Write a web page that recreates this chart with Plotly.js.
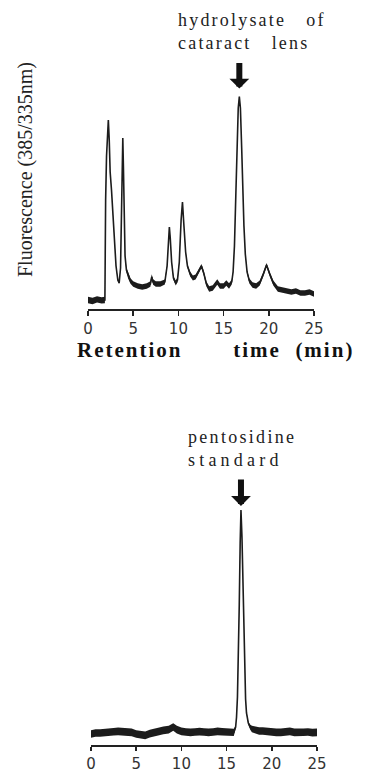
<!DOCTYPE html>
<html>
<head>
<meta charset="utf-8">
<script src="https://cdn.plot.ly/plotly-3.0.1.min.js"></script>
<style>
html,body{margin:0;padding:0;background:#fff;}
#chart{width:365px;height:773px;}
</style>
</head>
<body>
<div id="chart"></div>
<script>
// ---- Top: hydrolysate of cataract lens (retention time in min, fluorescence in arbitrary units) ----
var topTime = [0, 0.5, 1.0, 1.5, 1.87, 1.9, 1.95, 2.05, 2.15, 2.25, 2.35, 2.45, 2.6, 2.75, 2.9, 3.1, 3.3, 3.45, 3.6, 3.7, 3.78, 3.85, 3.92, 4.0, 4.1, 4.25, 4.45, 4.7, 5.0, 5.5, 6.0, 6.5, 6.9, 7.05, 7.2, 7.5, 8.0, 8.5, 8.75, 8.9, 9.0, 9.1, 9.25, 9.45, 9.7, 9.9, 10.1, 10.3, 10.45, 10.6, 10.8, 11.0, 11.3, 11.6, 11.9, 12.2, 12.55, 12.8, 13.1, 13.4, 13.8, 14.3, 14.6, 15.0, 15.3, 15.6, 15.9, 16.05, 16.2, 16.35, 16.5, 16.62, 16.74, 16.86, 17.0, 17.1, 17.25, 17.4, 17.6, 17.85, 18.2, 18.6, 19.0, 19.4, 19.75, 20.1, 20.5, 21.0, 21.5, 22.0, 22.5, 23.0, 23.5, 24.0, 24.5, 25.0];
var topSignal = [0, -0.5, 0.3, -0.2, 0, 25, 50, 72, 85, 90, 80, 64, 55, 44, 30, 17, 10, 8.5, 16, 38, 66, 81, 66, 40, 22, 15, 12, 9.5, 8, 7, 6.5, 7, 8, 11.5, 9, 8, 8, 9, 17, 29, 36.5, 31, 19, 11, 8.5, 10, 19, 40, 49, 38, 24, 17, 13, 11, 11.5, 14, 17, 13.5, 8, 5.5, 6, 9, 7, 7, 8.5, 7, 9, 14, 27, 52, 80, 96, 101.7, 96, 76, 58, 37, 23, 14, 9.5, 7.5, 7, 8.5, 13, 17.5, 13, 8.5, 5.5, 5, 4.5, 4, 4.5, 3.5, 3.5, 4, 3];
var topNoise = [1.6, 1.6, 1.6, 1.6, 1.6, 0.3, 0.3, 0.3, 0.3, 0.3, 0.3, 0.3, 0.3, 0.3, 0.3, 0.4, 0.6, 0.6, 0.3, 0.3, 0.3, 0.3, 0.3, 0.3, 0.5, 1.2, 1.4, 1.4, 1.4, 1.4, 1.4, 1.4, 1.4, 1.4, 1.4, 1.4, 1.4, 1.2, 0.6, 0.3, 0.3, 0.3, 0.5, 1.0, 1.3, 1.2, 0.5, 0.3, 0.3, 0.3, 0.5, 0.9, 1.2, 1.3, 1.3, 1.1, 1.0, 1.1, 1.3, 1.4, 1.4, 1.4, 1.4, 1.4, 1.4, 1.4, 1.2, 0.6, 0.3, 0.3, 0.3, 0.3, 0.3, 0.3, 0.3, 0.3, 0.3, 0.4, 0.8, 1.2, 1.4, 1.4, 1.3, 1.1, 1.0, 1.1, 1.3, 1.4, 1.4, 1.4, 1.4, 1.4, 1.4, 1.4, 1.4, 1.4];

// ---- Bottom: pentosidine standard ----
var botTime = [0, 0.5, 1, 1.5, 2, 2.5, 3, 3.5, 4, 4.5, 5, 5.5, 6, 6.5, 7, 7.5, 8, 8.6, 9.1, 9.5, 10, 10.5, 11, 11.5, 12, 12.5, 13, 13.5, 14, 14.5, 15, 15.5, 15.8, 16.0, 16.1, 16.2, 16.3, 16.4, 16.5, 16.59, 16.7, 16.8, 16.9, 17.0, 17.1, 17.2, 17.4, 17.6, 17.8, 18.2, 18.6, 19, 19.5, 20, 20.5, 21, 21.5, 22, 22.5, 23, 23.5, 24, 24.5, 25];
var botSignal = [-0.5, 0, 0, 0.3, 0.3, 0.6, 0.8, 0.7, 0.5, 0.3, -0.5, -0.8, -1.2, -0.3, 0.3, 0.8, 1.3, 1.7, 3, 1.7, 0.8, 0.5, 0.3, 0.5, 0.7, 0.5, 0.3, 0.5, 0.8, 0.6, 0.5, 0.4, 0.3, 3, 8, 18, 38, 64, 95, 111.5, 98, 74, 48, 28, 17, 10, 5, 3, 2, 1.5, 1, 1, 0.7, 0.5, 0.3, 0.3, 0.5, 0.8, 0.3, 0.2, 0.4, 0.5, 0.2, 0.3];
var botNoise = [1.9, 1.9, 1.9, 1.9, 1.9, 1.9, 1.9, 1.9, 1.9, 1.9, 1.9, 1.9, 1.9, 1.9, 1.9, 1.9, 1.9, 1.9, 1.9, 1.9, 1.9, 1.9, 1.9, 1.9, 1.9, 1.9, 1.9, 1.9, 1.9, 1.9, 1.9, 1.9, 1.8, 0.8, 0.3, 0.3, 0.3, 0.3, 0.3, 0.3, 0.3, 0.3, 0.3, 0.3, 0.3, 0.4, 0.8, 1.3, 1.6, 1.8, 1.9, 1.9, 1.9, 1.9, 1.9, 1.9, 1.9, 1.9, 1.9, 1.9, 1.9, 1.9, 1.9, 1.9];

var xTickVals = [0, 5, 10, 15, 20, 25];
var xTickText = ['0', '5', '10', '15', '20', '25'];

var INK = '#1c1c1c';

function band(xs, ys, ns, xa, ya) {
  var lower = ys.map(function (v, i) { return v - ns[i]; });
  var upper = ys.map(function (v, i) { return v + ns[i]; });
  return [
    {x: xs, y: lower, xaxis: xa, yaxis: ya, mode: 'lines', line: {width: 0, color: INK}, hoverinfo: 'skip', showlegend: false},
    {x: xs, y: upper, xaxis: xa, yaxis: ya, mode: 'lines', line: {width: 0, color: INK}, fill: 'tonexty', fillcolor: INK, hoverinfo: 'skip', showlegend: false},
    {x: xs, y: ys, xaxis: xa, yaxis: ya, mode: 'lines', line: {width: 1.6, color: INK}, showlegend: false}
  ];
}

var data = band(topTime, topSignal, topNoise, 'x', 'y').concat(band(botTime, botSignal, botNoise, 'x2', 'y2'));

var W = 365, H = 773;
function px(v) { return v / W; }
function py(v) { return 1 - v / H; }

var tickFont = {family: 'DejaVu Sans', size: 15, color: '#333'};
var xaxisBase = {
  range: [0, 25], showgrid: false, zeroline: false, showline: true, linecolor: '#222', linewidth: 1.5,
  ticks: 'outside', ticklen: 5, tickwidth: 1.5, tickcolor: '#222',
  tickmode: 'array', tickvals: xTickVals, ticktext: xTickText, tickfont: tickFont, fixedrange: true
};
var yaxisBase = {visible: false, showgrid: false, zeroline: false, fixedrange: true};

var serif = 'Liberation Serif';
var layout = {
  width: W, height: H,
  margin: {l: 0, r: 0, t: 0, b: 0},
  paper_bgcolor: '#fff', plot_bgcolor: '#fff',
  showlegend: false,
  xaxis: Object.assign({}, xaxisBase, {domain: [px(88), px(314)], anchor: 'y'}),
  yaxis: Object.assign({}, yaxisBase, {domain: [py(309), py(90)], range: [-4.5, 105], anchor: 'x'}),
  xaxis2: Object.assign({}, xaxisBase, {domain: [px(91), px(317)], anchor: 'y2', ticklen: 4}),
  yaxis2: Object.assign({}, yaxisBase, {domain: [py(745), py(500)], range: [-6, 116.5], anchor: 'x2'}),
  annotations: [
    {xref: 'paper', yref: 'paper', x: px(176), y: py(8), xanchor: 'left', yanchor: 'top', align: 'left', showarrow: false,
     text: '<span style="letter-spacing:2.2px">hydrolysate&nbsp;&nbsp;&nbsp;of</span><br><span style="letter-spacing:2.2px">cataract&nbsp;&nbsp;&nbsp;lens</span>',
     font: {family: serif, size: 18, color: '#222'}},
    {xref: 'x', yref: 'y', x: 16.74, y: 101.7, text: '', showarrow: true, ax: 0, ay: -35, axref: 'pixel', ayref: 'pixel',
     arrowhead: 1, arrowsize: 0.55, arrowwidth: 6, arrowcolor: '#111', standoff: 8},
    {xref: 'paper', yref: 'paper', x: px(75), y: py(350), xanchor: 'left', yanchor: 'middle', showarrow: false,
     text: '<b><span style="letter-spacing:2px">Retention&nbsp;&nbsp;&nbsp;&nbsp;&nbsp;&nbsp;&nbsp;time&nbsp;&nbsp;(min)</span></b>',
     font: {family: serif, size: 21, color: '#111'}},
    {xref: 'paper', yref: 'paper', x: px(25), y: py(170), xanchor: 'center', yanchor: 'middle', showarrow: false, textangle: -90,
     text: 'Fluorescence (385/335nm)', font: {family: serif, size: 20, color: '#222'}},
    {xref: 'paper', yref: 'paper', x: px(186), y: py(425), xanchor: 'left', yanchor: 'top', align: 'left', showarrow: false,
     text: '<span style="letter-spacing:2.3px">pentosidine</span><br><span style="letter-spacing:4.2px">standard</span>',
     font: {family: serif, size: 18, color: '#222'}},
    {xref: 'x2', yref: 'y2', x: 16.59, y: 111.5, text: '', showarrow: true, ax: 0, ay: -32, axref: 'pixel', ayref: 'pixel',
     arrowhead: 1, arrowsize: 0.55, arrowwidth: 6, arrowcolor: '#111', standoff: 4}
  ]
};

Plotly.newPlot('chart', data, layout, {staticPlot: true, displayModeBar: false});
</script>
</body>
</html>
